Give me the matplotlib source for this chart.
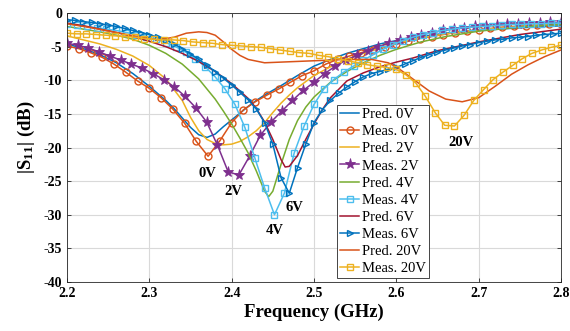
import numpy as np
import matplotlib
matplotlib.use("Agg")
import matplotlib.pyplot as plt

plt.rcParams['font.family'] = ['Liberation Serif', 'DejaVu Serif']
plt.rcParams['mathtext.fontset'] = 'custom'
plt.rcParams['mathtext.rm'] = 'Liberation Serif:bold'
plt.rcParams['mathtext.it'] = 'Liberation Serif:bold'
plt.rcParams['mathtext.bf'] = 'Liberation Serif:bold'

# ---------------- data ----------------
# Predicted 0V
f_p0 = [2.20, 2.22, 2.24, 2.26, 2.28, 2.30, 2.32, 2.33, 2.34, 2.35, 2.36, 2.37, 2.38, 2.39,
        2.40, 2.41, 2.42, 2.43, 2.44, 2.46, 2.48, 2.50, 2.52, 2.54, 2.56, 2.58, 2.60, 2.63,
        2.66, 2.70, 2.75, 2.80]
s_p0 = [-4.6, -5.3, -6.2, -7.4, -9.0, -10.9, -13.0, -14.2, -15.6, -17.0, -18.1, -18.5, -18.0, -16.9,
        -15.9, -14.9, -13.9, -13.0, -12.2, -10.8, -9.3, -7.9, -6.9, -6.0, -5.3, -4.6, -4.1, -3.5,
        -3.0, -2.6, -2.2, -1.9]

# Measured 0V
f_m0 = list(np.round(np.linspace(2.2, 2.8, 43), 4))
s_m0 = [-4.9, -5.3, -5.9, -6.6, -7.6, -8.8, -10.1, -11.2, -12.6, -14.3, -16.4, -19.1, -21.3,
        -19.0, -16.3, -14.4, -13.2, -12.2, -11.3, -10.3, -9.3, -8.6, -7.6, -6.9, -6.4, -5.9,
        -5.5, -5.1, -4.6, -4.2, -3.8, -3.5, -3.2, -2.9, -2.7, -2.5, -2.3, -2.1, -2.0, -1.9,
        -1.8, -1.7, -1.6]

# Predicted 2V
f_p2 = [2.20, 2.22, 2.24, 2.26, 2.28, 2.30, 2.32, 2.34, 2.35, 2.36, 2.37, 2.38, 2.39, 2.40,
        2.41, 2.42, 2.43, 2.44, 2.45, 2.46, 2.47, 2.48, 2.50, 2.52, 2.54, 2.56, 2.58, 2.60,
        2.63, 2.66, 2.70, 2.75, 2.80]
s_p2 = [-3.4, -4.0, -4.6, -5.4, -6.4, -7.8, -9.8, -13.0, -15.5, -17.5, -18.8, -19.4, -19.6, -19.5,
        -19.1, -18.4, -17.5, -16.3, -14.8, -13.4, -12.2, -11.1, -9.3, -8.0, -6.9, -6.0, -5.2, -4.5,
        -3.7, -3.1, -2.5, -2.0, -1.6]

# Measured 2V
f_m2 = list(np.round(np.linspace(2.2, 2.8, 47), 4))
s_m2 = [-4.5, -4.8, -5.2, -5.8, -6.4, -7.0, -7.6, -8.2, -9.0, -9.9, -11.0, -12.4, -14.1, -16.2,
        -19.6, -23.6, -24.1, -21.3, -18.2, -16.2, -14.6, -13.0, -11.5, -10.3, -9.0, -7.9, -7.0,
        -6.3, -5.6, -5.0, -4.5, -4.0, -3.6, -3.2, -2.9, -2.6, -2.4, -2.2, -2.0, -1.9, -1.8, -1.7,
        -1.6, -1.5, -1.5, -1.4, -1.4]

# Predicted 4V
f_p4 = [2.20, 2.22, 2.24, 2.26, 2.28, 2.30, 2.32, 2.34, 2.36, 2.38, 2.39, 2.40, 2.41, 2.42,
        2.43, 2.44, 2.445, 2.45, 2.46, 2.47, 2.48, 2.49, 2.50, 2.52, 2.54, 2.56, 2.58, 2.60,
        2.63, 2.66, 2.70, 2.75, 2.80]
s_p4 = [-2.0, -2.4, -2.8, -3.3, -3.9, -4.8, -6.0, -7.6, -9.8, -12.8, -14.6, -16.5, -18.6, -20.8,
        -23.5, -26.5, -27.3, -26.5, -22.5, -18.8, -16.0, -14.0, -12.5, -10.3, -8.7, -7.4, -6.3,
        -5.4, -4.3, -3.5, -2.7, -2.1, -1.7]

# Measured 4V
f_m4 = list(np.round(np.linspace(2.2, 2.8, 51), 4))
s_m4 = [-1.6, -1.8, -2.0, -2.2, -2.4, -2.6, -2.9, -3.2, -3.5, -3.9, -4.4, -5.0, -5.8, -6.8,
        -8.0, -9.5, -11.3, -13.6, -17.0, -21.5, -26.0, -30.0, -26.8, -20.8, -16.8, -13.6, -11.3,
        -9.9, -8.8, -7.9, -7.0, -6.2, -5.4, -4.7, -4.1, -3.6, -3.2, -2.9, -2.6, -2.4, -2.2, -2.1,
        -2.0, -1.9, -1.8, -1.7, -1.7, -1.6, -1.6, -1.5, -1.5]

# Predicted 6V
f_p6 = [2.20, 2.22, 2.24, 2.26, 2.28, 2.30, 2.32, 2.34, 2.36, 2.38, 2.40, 2.42, 2.43, 2.44,
        2.45, 2.46, 2.465, 2.47, 2.48, 2.49, 2.50, 2.51, 2.52, 2.54, 2.56, 2.58, 2.60, 2.62,
        2.65, 2.70, 2.75, 2.80]
s_p6 = [-1.5, -1.9, -2.4, -2.9, -3.5, -4.2, -5.0, -6.0, -7.2, -8.7, -10.5, -12.7, -14.2, -16.2,
        -18.8, -21.8, -22.9, -22.8, -21.2, -18.8, -16.5, -14.4, -12.6, -10.1, -8.9, -8.0, -7.3,
        -6.7, -5.6, -4.3, -3.2, -2.4]

# Measured 6V
f_m6 = list(np.round(np.linspace(2.2, 2.8, 61), 4))
s_m6 = [-1.0, -1.1, -1.3, -1.4, -1.6, -1.8, -2.0, -2.3, -2.6, -2.9, -3.2, -3.6, -4.0, -4.6,
        -5.3, -6.1, -6.9, -7.8, -8.7, -9.7, -10.7, -11.8, -12.9, -14.3, -16.3, -19.5, -24.5,
        -26.8, -23.0, -19.5, -16.3, -14.4, -13.0, -11.9, -11.0, -10.2, -9.5, -9.0, -8.7, -8.4,
        -8.1, -7.6, -7.1, -6.6, -6.2, -5.8, -5.5, -5.2, -4.9, -4.7, -4.4, -4.2, -4.0, -3.9,
        -3.7, -3.6, -3.5, -3.3, -3.2, -3.1, -3.0]

# Predicted 20V
f_p20 = [2.20, 2.23, 2.26, 2.29, 2.31, 2.33, 2.345, 2.36, 2.37, 2.38, 2.39, 2.40, 2.41, 2.42,
         2.44, 2.46, 2.50, 2.54, 2.57, 2.59, 2.60, 2.62, 2.64, 2.66, 2.68, 2.70, 2.72, 2.74,
         2.76, 2.78, 2.80]
s_p20 = [-1.6, -2.2, -2.9, -3.6, -4.0, -3.6, -3.0, -2.8, -2.9, -3.3, -4.3, -5.4, -6.3, -6.9,
         -7.4, -7.3, -7.1, -6.9, -6.9, -7.4, -8.0, -9.8, -11.6, -12.8, -13.2, -12.6, -10.9,
         -9.1, -7.7, -6.5, -5.5]

# Measured 20V
f_m20 = list(np.round(np.linspace(2.2, 2.8, 52), 4))
s_m20 = [-3.0, -3.1, -3.1, -3.2, -3.3, -3.4, -3.5, -3.6, -3.8, -3.9, -4.0, -4.0, -4.1, -4.3,
         -4.4, -4.5, -4.7, -4.8, -4.9, -5.0, -5.1, -5.3, -5.5, -5.7, -5.9, -6.0, -6.3, -6.5,
         -6.8, -7.1, -7.4, -7.7, -7.9, -8.1, -8.4, -9.2, -10.4, -12.4, -14.8, -16.7, -16.8,
         -15.2, -13.0, -11.4, -9.9, -8.8, -7.8, -6.8, -6.0, -5.5, -5.1, -4.8]

labels = ["Pred. 0V", "Meas. 0V", "Pred. 2V", "Meas. 2V", "Pred. 4V",
          "Meas. 4V", "Pred. 6V", "Meas. 6V", "Pred. 20V", "Meas. 20V"]
annot_text = ["0V", "2V", "4V", "6V", "20V"]
annot_f = [2.371, 2.402, 2.452, 2.476, 2.678]
annot_s = [-23.8, -26.6, -32.3, -28.9, -19.2]

# ---------------- plot ----------------
fig = plt.figure(figsize=(5.70, 3.31), dpi=100)
ax = fig.add_axes([0.1175, 0.148, 0.8667, 0.8127])

lw = 1.1
ax.plot(f_p0, s_p0, color='#0072BD', lw=lw, label=labels[0])
ax.plot(f_m0, s_m0, color='#D95319', lw=lw, marker='o', ms=5, mfc='none', mew=1.0, label=labels[1])
ax.plot(f_p2, s_p2, color='#EDB120', lw=lw, label=labels[2])
ax.plot(f_m2, s_m2, color='#7E2F8E', lw=lw, marker='*', ms=8, mew=0.6, label=labels[3])
ax.plot(f_p4, s_p4, color='#77AC30', lw=lw, label=labels[4])
ax.plot(f_m4, s_m4, color='#4DBEEE', lw=lw, marker='s', ms=4, mfc='none', mew=1.0, label=labels[5])
ax.plot(f_p6, s_p6, color='#A2142F', lw=lw, label=labels[6])
ax.plot(f_m6, s_m6, color='#0072BD', lw=lw, marker='>', ms=5, mfc='none', mew=1.0, label=labels[7])
ax.plot(f_p20, s_p20, color='#D95319', lw=lw, label=labels[8])
ax.plot(f_m20, s_m20, color='#EDB120', lw=lw, marker='s', ms=4, mfc='none', mew=1.0, label=labels[9])

for t, x, y in zip(annot_text, annot_f, annot_s):
    ax.text(x, y, t, fontsize=10.5, fontweight='bold', ha='center', va='center')

ax.set_xlim(2.2, 2.8)
ax.set_ylim(-40, 0)
ax.set_xticks(np.arange(2.2, 2.801, 0.1))
ax.set_yticks(np.arange(-40, 0.1, 5))
ax.set_xticklabels(['%.1f' % v for v in np.arange(2.2, 2.801, 0.1)])
ax.set_yticklabels(['%d' % v for v in np.arange(-40, 0.1, 5)])
for lab in ax.get_xticklabels() + ax.get_yticklabels():
    lab.set_fontweight('bold')
    lab.set_fontsize(10)
ax.tick_params(direction='in', top=True, right=True, length=3, width=0.6, colors='#262626',
               labelcolor='black')
ax.grid(True, color='#d9d9d9', lw=0.8)
ax.set_axisbelow(True)
for sp in ax.spines.values():
    sp.set_color('#262626')
    sp.set_linewidth(0.6)

ax.set_xlabel('Frequency (GHz)', fontsize=13.5, fontweight='bold', labelpad=3)
ax.set_ylabel(r'|S$_{11}$| (dB)', fontsize=13.5, fontweight='bold')
ax.yaxis.set_label_coords(-0.06, 0.54)

leg = ax.legend(loc='upper left', bbox_to_anchor=(0.547, 0.658), fontsize=10.5,
                frameon=True, fancybox=False, edgecolor='#262626', framealpha=1,
                handlelength=1.3, handletextpad=0.2, borderpad=0.2, labelspacing=0.27,
                borderaxespad=0)
leg.get_frame().set_linewidth(0.6)

fig.savefig('out.png', dpi=100)
